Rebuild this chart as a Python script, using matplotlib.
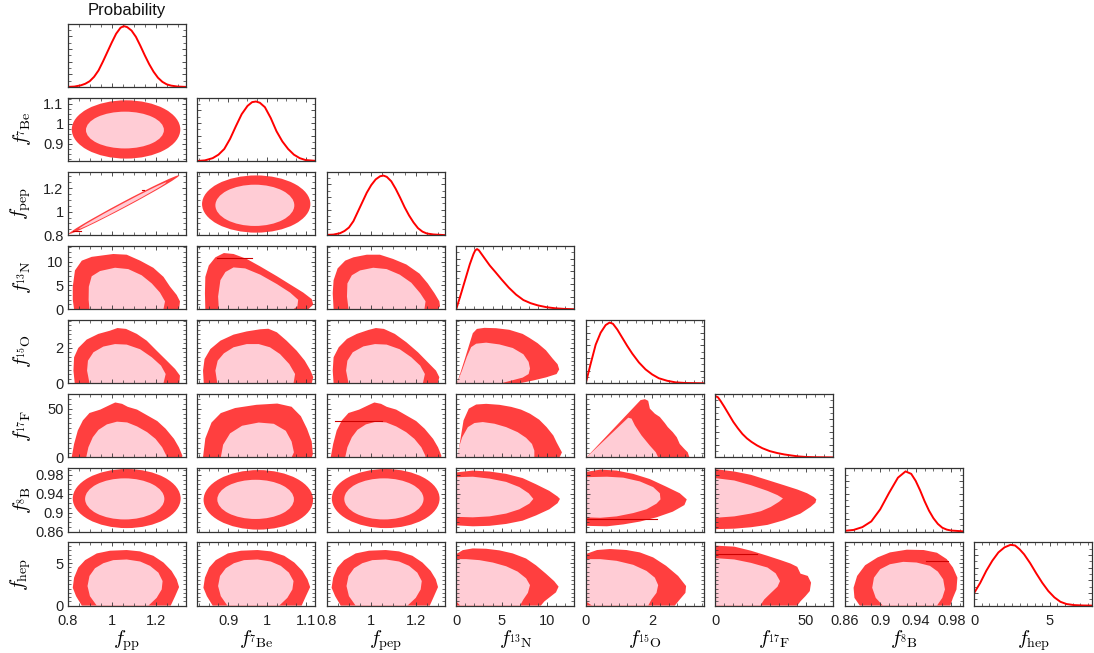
import matplotlib
matplotlib.use('Agg')
import matplotlib.pyplot as plt
from matplotlib.patches import Ellipse, Polygon
from matplotlib.ticker import FixedLocator, MultipleLocator, FuncFormatter

plt.rcParams['font.family'] = ['Liberation Sans', 'DejaVu Sans']
plt.rcParams['mathtext.fontset'] = 'cm'

# ---------------- parameters / axes ----------------
names = ['pp', 'Be', 'pep', 'N', 'O', 'F', 'B', 'hep']
axis_labels = [r'$f_{\rm pp}$', r'$f_{^{7}\rm Be}$', r'$f_{\rm pep}$', r'$f_{^{13}\rm N}$',
               r'$f_{^{15}\rm O}$', r'$f_{^{17}\rm F}$', r'$f_{^{8}\rm B}$', r'$f_{\rm hep}$']
xlims = [(0.8, 1.336), (0.82, 1.125), (0.8, 1.33), (0, 13), (0, 3.55), (0, 65), (0.86, 0.993), (0, 7.8)]
ylims = [(0.8, 1.336), (0.815, 1.13), (0.8, 1.34), (0, 13.3), (0, 3.55), (0, 65), (0.86, 0.994), (0, 7.45)]
major_ticks = [[0.8, 1.0, 1.2], [0.9, 1.0, 1.1], [0.8, 1.0, 1.2], [0, 5, 10], [0, 2], [0, 50],
               [0.86, 0.9, 0.94, 0.98], [0, 5]]
minor_steps = [0.05, 0.025, 0.05, 1, 0.25, 5, 0.01, 0.5]

# ---------------- 1D marginals ----------------
pp_x = [0.80, 0.83, 0.86, 0.88, 0.90, 0.92, 0.94, 0.96, 0.98, 1.00, 1.02, 1.04, 1.055, 1.07, 1.09, 1.11, 1.13,
        1.15, 1.17, 1.19, 1.21, 1.23, 1.25, 1.27, 1.30, 1.336]
pp_p = [0.0, 0.005, 0.025, 0.05, 0.09, 0.16, 0.26, 0.40, 0.55, 0.70, 0.84, 0.935, 0.96, 0.945, 0.89, 0.79, 0.65,
        0.50, 0.36, 0.24, 0.145, 0.08, 0.04, 0.02, 0.005, 0.0]
Be_x = [0.82, 0.84, 0.86, 0.875, 0.89, 0.905, 0.92, 0.935, 0.95, 0.962, 0.972, 0.982, 0.995, 1.01, 1.025, 1.04,
        1.055, 1.07, 1.085, 1.10, 1.125]
Be_p = [0.0, 0.01, 0.045, 0.10, 0.19, 0.35, 0.55, 0.74, 0.87, 0.93, 0.94, 0.92, 0.85, 0.68, 0.47, 0.31,
        0.19, 0.10, 0.045, 0.015, 0.003]
pep_x = [0.80, 0.83, 0.86, 0.88, 0.90, 0.92, 0.94, 0.96, 0.98, 1.00, 1.02, 1.04, 1.055, 1.07, 1.09, 1.11, 1.13,
         1.15, 1.17, 1.19, 1.21, 1.23, 1.25, 1.28, 1.33]
pep_p = [0.003, 0.008, 0.03, 0.065, 0.12, 0.22, 0.37, 0.52, 0.67, 0.79, 0.88, 0.93, 0.94, 0.92, 0.85, 0.73, 0.59,
         0.44, 0.31, 0.20, 0.11, 0.055, 0.025, 0.01, 0.0]
N_x = [0, 0.5, 1.0, 1.5, 1.9, 2.1, 2.3, 2.5, 2.8, 3.2, 3.7, 4.3, 5.0, 5.8, 6.6, 7.4, 8.2, 9.0, 10.0, 11.0, 12.0, 13]
N_p = [0, 0.23, 0.47, 0.71, 0.87, 0.93, 0.95, 0.93, 0.87, 0.79, 0.69, 0.59, 0.47, 0.34, 0.23, 0.145, 0.095, 0.06,
       0.03, 0.013, 0.004, 0]
O_x = [0, 0.15, 0.3, 0.45, 0.6, 0.72, 0.82, 0.95, 1.1, 1.25, 1.4, 1.6, 1.8, 2.0, 2.2, 2.45, 2.7, 3.0, 3.55]
O_p = [0, 0.31, 0.61, 0.80, 0.92, 0.96, 0.94, 0.85, 0.72, 0.59, 0.47, 0.33, 0.22, 0.14, 0.08, 0.04, 0.015, 0.005, 0]
F_x = [0, 1.5, 3, 5, 7.5, 10, 12.5, 15, 17.5, 20, 23, 26, 30, 34, 38, 42, 46, 50, 55, 65]
F_p = [0.97, 0.95, 0.89, 0.80, 0.68, 0.56, 0.46, 0.37, 0.30, 0.245, 0.19, 0.145, 0.10, 0.07, 0.047, 0.03, 0.015,
       0.007, 0.003, 0]
B_x = [0.86, 0.87, 0.88, 0.89, 0.90, 0.91, 0.92, 0.9286, 0.935, 0.94, 0.945, 0.95, 0.955, 0.96, 0.965, 0.97, 0.975,
       0.98, 0.993]
B_p = [0.01, 0.025, 0.07, 0.16, 0.35, 0.61, 0.85, 0.95, 0.91, 0.80, 0.65, 0.48, 0.33, 0.21, 0.12, 0.06, 0.03,
       0.015, 0.003]
hep_x = [0, 0.4, 0.8, 1.2, 1.6, 2.0, 2.4, 2.7, 3.0, 3.3, 3.7, 4.1, 4.5, 4.9, 5.3, 5.7, 6.1, 6.6, 7.2, 7.8]
hep_p = [0.20, 0.36, 0.55, 0.71, 0.84, 0.92, 0.96, 0.95, 0.89, 0.81, 0.67, 0.51, 0.36, 0.23, 0.13, 0.06, 0.025,
         0.008, 0.002, 0]

# ---------------- 2D regions: ellipses (cx, cy, width, height, angle) ----------------
Be_pp_out = (1.065, 0.972, 0.493, 0.29, 0)
Be_pp_in = (1.06, 0.969, 0.354, 0.183, 0)
pep_pp_out = (1.056, 1.06, 0.709, 0.040, 45)
pep_pp_in = (1.05, 1.052, 0.56, 0.024, 45)
pep_Be_out = (0.9725, 1.065, 0.28, 0.488, 0)
pep_Be_in = (0.969, 1.054, 0.204, 0.352, 0)
B_pp_out = (1.068, 0.9297, 0.49, 0.125, 0)
B_pp_in = (1.059, 0.929, 0.36, 0.087, 0)
B_Be_out = (0.978, 0.927, 0.283, 0.126, 0)
B_Be_in = (0.971, 0.928, 0.198, 0.083, 0)
B_pep_out = (1.065, 0.9297, 0.484, 0.125, 0)
B_pep_in = (1.057, 0.929, 0.356, 0.087, 0)

# ---------------- 2D regions: polygons [(x, y), ...] ----------------
N_pp_out = [(0.829, 0), (0.823, 2.0), (0.823, 4.73), (0.833, 8.15), (0.864, 10.2), (0.909, 11.0), (1.007, 11.6),
            (1.068, 11.45), (1.129, 10.2), (1.189, 8.7), (1.235, 6.8), (1.265, 4.73), (1.295, 3.0), (1.31, 1.65), (1.306, 0)]
N_pp_in = [(0.899, 0), (0.895, 2.0), (0.896, 4.73), (0.909, 6.92), (0.947, 8.02), (1.015, 8.71), (1.075, 8.43),
           (1.136, 7.13), (1.182, 5.41), (1.219, 3.5), (1.242, 1.65), (1.235, 0)]
N_Be_out = [(0.841, 0), (0.84, 3.36), (0.841, 6.78), (0.85, 9.18), (0.867, 10.9), (0.889, 11.8), (0.914, 11.6),
            (0.948, 10.56), (0.983, 8.98), (1.026, 6.93), (1.06, 5.21), (1.094, 3.5), (1.116, 2.13), (1.12, 0.96), (1.107, 0)]
N_Be_in = [(0.876, 0), (0.874, 2.67), (0.88, 6.1), (0.893, 7.82), (0.914, 8.78), (0.944, 8.57), (0.983, 7.26),
           (1.026, 5.28), (1.06, 3.5), (1.081, 1.98), (1.079, 0.61), (1.069, 0)]
N_pep_out = [(0.831, 0), (0.827, 3.36), (0.831, 6.1), (0.849, 8.57), (0.883, 10.2), (0.92, 10.9), (0.98, 11.45),
             (1.039, 11.45), (1.098, 10.56), (1.158, 9.39), (1.217, 7.47), (1.254, 5.41), (1.284, 3.36), (1.306, 1.65),
             (1.309, 0.61), (1.299, 0)]
N_pep_in = [(0.898, 0), (0.891, 2.66), (0.893, 5.41), (0.913, 7.13), (0.95, 8.15), (1.009, 8.71), (1.069, 8.43),
            (1.128, 7.26), (1.18, 5.56), (1.22, 3.36), (1.244, 1.65), (1.239, 0)]

O_pp_out = [(0.832, 0), (0.826, 0.71), (0.829, 1.46), (0.848, 1.98), (0.886, 2.45), (0.939, 2.77), (0.992, 2.95),
            (1.026, 3.1), (1.065, 3.05), (1.114, 2.77), (1.159, 2.39), (1.204, 1.83), (1.25, 1.27), (1.288, 0.8),
            (1.31, 0.43), (1.307, 0)]
O_pp_in = [(0.899, 0), (0.888, 0.71), (0.892, 1.27), (0.917, 1.74), (0.962, 2.06), (1.015, 2.2), (1.068, 2.17),
           (1.129, 1.91), (1.182, 1.46), (1.224, 0.99), (1.245, 0.52), (1.235, 0)]
O_Be_out = [(0.837, 0), (0.835, 0.71), (0.839, 1.36), (0.854, 1.92), (0.88, 2.39), (0.914, 2.73), (0.948, 2.91),
            (0.983, 3.03), (1.004, 3.06), (1.026, 2.86), (1.051, 2.39), (1.077, 1.83), (1.098, 1.27), (1.113, 0.71),
            (1.12, 0.34), (1.116, 0)]
O_Be_in = [(0.872, 0), (0.867, 0.71), (0.873, 1.27), (0.889, 1.68), (0.914, 2.02), (0.948, 2.2), (0.979, 2.2),
           (1.008, 2.02), (1.034, 1.64), (1.058, 1.08), (1.073, 0.52), (1.069, 0)]
O_pep_out = [(0.831, 0), (0.827, 0.71), (0.831, 1.46), (0.854, 2.02), (0.891, 2.49), (0.935, 2.77), (0.987, 2.99),
             (1.021, 3.1), (1.057, 3.05), (1.106, 2.77), (1.158, 2.3), (1.21, 1.74), (1.254, 1.18), (1.291, 0.71),
             (1.306, 0.34), (1.299, 0)]
O_pep_in = [(0.898, 0), (0.887, 0.71), (0.893, 1.27), (0.917, 1.74), (0.965, 2.07), (1.017, 2.2), (1.069, 2.17),
            (1.128, 1.91), (1.18, 1.46), (1.22, 0.99), (1.241, 0.52), (1.232, 0)]
O_N_out = [(0.08, 0), (0.44, 0.55), (0.91, 1.3), (1.47, 2.22), (1.83, 2.81), (2.28, 3.05), (3.11, 3.11), (4.39, 3.09),
           (5.86, 3.0), (7.32, 2.77), (8.06, 2.55), (8.97, 2.25), (9.89, 1.85), (10.62, 1.39), (11.17, 1.07),
           (11.35, 0.78), (11.06, 0.52), (9.89, 0.33), (8.42, 0.15), (6.96, 0)]
O_N_in = [(0.08, 0), (0.66, 0.74), (1.17, 1.48), (1.65, 2.03), (2.2, 2.22), (3.3, 2.28), (4.76, 2.18), (6.23, 1.98),
          (7.4, 1.63), (7.98, 1.2), (8.13, 0.83), (7.98, 0.52), (7.32, 0.32), (6.05, 0.15), (4.94, 0)]

F_pp_out = [(0.818, 0), (0.829, 13.8), (0.846, 27.7), (0.869, 38.0), (0.899, 45.6), (0.948, 49.1), (0.993, 54.0),
            (1.016, 56.4), (1.047, 55.0), (1.073, 51.9), (1.115, 49.1), (1.161, 43.2), (1.207, 37.3), (1.245, 29.4),
            (1.283, 19.0), (1.305, 10.4), (1.321, 1.8), (1.319, 0)]
F_pp_in = [(0.884, 0), (0.894, 10.4), (0.914, 20.7), (0.94, 28.3), (0.978, 33.9), (1.024, 36.7), (1.07, 35.9),
           (1.115, 31.8), (1.161, 25.9), (1.199, 19.0), (1.229, 10.4), (1.248, 1.8), (1.249, 0)]
F_Be_out = [(0.835, 0), (0.841, 19.5), (0.857, 35.8), (0.881, 45.5), (0.918, 50.7), (0.973, 54), (1.027, 55.3),
            (1.064, 52), (1.088, 42.3), (1.104, 29.3), (1.116, 16.3), (1.119, 3.3), (1.116, 0)]
F_Be_in = [(0.881, 0), (0.887, 13), (0.905, 24.7), (0.936, 32.5), (0.979, 35.8), (1.018, 34.5), (1.049, 27.3),
           (1.064, 16.3), (1.07, 5.2), (1.064, 0)]
F_pep_out = [(0.818, 0), (0.829, 13.8), (0.845, 27.7), (0.868, 38.0), (0.898, 45.6), (0.946, 49.1), (0.991, 54.0),
             (1.014, 56.4), (1.044, 55.0), (1.07, 51.9), (1.112, 49.1), (1.157, 43.2), (1.202, 37.3), (1.24, 29.4),
             (1.278, 19.0), (1.3, 10.4), (1.315, 1.8), (1.314, 0)]
F_pep_in = [(0.883, 0), (0.893, 10.4), (0.913, 20.7), (0.938, 28.3), (0.976, 33.9), (1.022, 36.7), (1.067, 35.9),
            (1.112, 31.8), (1.157, 25.9), (1.194, 19.0), (1.225, 10.4), (1.243, 1.8), (1.244, 0)]
F_N_out = [(0.18, 0), (0.44, 17.3), (0.81, 38.0), (1.39, 50.1), (2.2, 54.3), (3.3, 55.0), (4.76, 54.0), (6.05, 51.9),
           (7.14, 49.1), (8.13, 44.9), (9.15, 38.7), (9.96, 31.1), (10.7, 22.5), (11.06, 15.5), (11.35, 10.4),
           (11.65, 5.2), (11.43, 0.7), (11.17, 0)]
F_N_in = [(0.08, 0), (0.3, 10.4), (0.66, 20.7), (1.29, 31.1), (2.01, 35.3), (2.93, 36.3), (4.21, 34.6), (5.5, 31.1),
          (6.77, 25.9), (7.7, 20.1), (8.35, 13.8), (8.61, 6.9), (8.61, 0)]
F_O_out = [(0.02, 0), (1.65, 58.8), (1.78, 59.8), (1.88, 58.1), (1.93, 50.1), (2.08, 44.9), (2.23, 41.5), (2.38, 35.3),
           (2.47, 31.1), (2.62, 25.9), (2.74, 20.7), (2.83, 13.8), (2.97, 8.6), (3.07, 5.2), (3.12, 0)]
F_O_in = [(0.02, 0), (1.28, 40.8), (1.38, 39.8), (1.48, 32.8), (1.68, 22.5), (1.93, 12.1), (2.11, 5.2), (2.18, 0)]

B_N_out = [(0, 0.985), (1.83, 0.989), (3.67, 0.987), (5.5, 0.982), (7.32, 0.973), (8.79, 0.96), (10.26, 0.946),
           (11.17, 0.934), (11.43, 0.929), (11.17, 0.92), (10.26, 0.907), (8.79, 0.894), (7.32, 0.883), (5.5, 0.876),
           (3.67, 0.872), (1.83, 0.871), (0, 0.873)]
B_N_in = [(0, 0.975), (1.83, 0.976), (3.67, 0.972), (5.5, 0.965), (6.96, 0.954), (7.98, 0.941), (8.5, 0.929),
          (8.06, 0.919), (6.96, 0.907), (5.5, 0.898), (3.67, 0.892), (1.83, 0.89), (0, 0.891)]
B_O_out = [(0, 0.986), (0.44, 0.991), (0.93, 0.989), (1.43, 0.982), (1.93, 0.971), (2.42, 0.955), (2.83, 0.941),
           (3.04, 0.928), (2.97, 0.916), (2.62, 0.902), (2.13, 0.89), (1.63, 0.881), (1.13, 0.875), (0.64, 0.871),
           (0, 0.872)]
B_O_in = [(0, 0.975), (0.64, 0.976), (1.13, 0.974), (1.63, 0.966), (2.03, 0.954), (2.23, 0.941), (2.25, 0.928),
          (2.13, 0.919), (1.83, 0.907), (1.43, 0.899), (0.93, 0.892), (0.44, 0.889), (0, 0.89)]
B_F_out = [(0, 0.992), (10.5, 0.987), (19.7, 0.98), (28.8, 0.969), (37.9, 0.958), (45.2, 0.949), (50.6, 0.941),
           (54.3, 0.933), (55.7, 0.928), (55.2, 0.921), (52.5, 0.912), (47.0, 0.898), (37.9, 0.884), (28.8, 0.874),
           (19.7, 0.869), (10.5, 0.866), (0, 0.865)]
B_F_in = [(0, 0.973), (10.5, 0.968), (19.7, 0.958), (28.8, 0.946), (34.3, 0.937), (37.3, 0.93), (35.2, 0.923),
          (30.6, 0.912), (25.2, 0.903), (19.7, 0.898), (10.5, 0.892), (0, 0.889)]

hep_pp_out = [(0.864, 0), (0.838, 1.11), (0.823, 2.1), (0.829, 3.29), (0.848, 4.48), (0.879, 5.35), (0.932, 6.14),
              (0.992, 6.46), (1.068, 6.54), (1.129, 6.38), (1.189, 5.86), (1.235, 5.07), (1.272, 4.08), (1.295, 3.09),
              (1.306, 2.18), (1.288, 1.11), (1.268, 0)]
hep_pp_in = [(0.932, 0), (0.901, 1.11), (0.89, 2.3), (0.899, 3.49), (0.924, 4.4), (0.962, 4.99), (1.007, 5.35),
             (1.068, 5.43), (1.129, 5.19), (1.174, 4.68), (1.212, 3.88), (1.231, 2.89), (1.227, 1.9), (1.204, 0.91),
             (1.167, 0)]
hep_Be_out = [(0.86, 0), (0.845, 1.11), (0.836, 2.1), (0.84, 3.29), (0.851, 4.48), (0.868, 5.35), (0.899, 6.14),
              (0.933, 6.46), (0.976, 6.54), (1.011, 6.38), (1.045, 5.86), (1.071, 5.07), (1.092, 4.08), (1.105, 3.09),
              (1.112, 2.18), (1.101, 1.11), (1.09, 0)]
hep_Be_in = [(0.898, 0), (0.881, 1.11), (0.874, 2.3), (0.879, 3.49), (0.894, 4.4), (0.915, 4.99), (0.941, 5.35),
             (0.976, 5.43), (1.01, 5.19), (1.036, 4.68), (1.057, 3.88), (1.069, 2.89), (1.066, 1.9), (1.053, 0.91),
             (1.032, 0)]
hep_pep_out = [(0.863, 0), (0.838, 1.11), (0.822, 2.1), (0.829, 3.29), (0.848, 4.48), (0.878, 5.35), (0.93, 6.14),
               (0.99, 6.46), (1.065, 6.54), (1.125, 6.38), (1.185, 5.86), (1.23, 5.07), (1.267, 4.08), (1.29, 3.09),
               (1.3, 2.18), (1.282, 1.11), (1.263, 0)]
hep_pep_in = [(0.93, 0), (0.9, 1.11), (0.889, 2.3), (0.898, 3.49), (0.923, 4.4), (0.96, 4.99), (1.005, 5.35),
              (1.065, 5.43), (1.125, 5.19), (1.17, 4.68), (1.207, 3.88), (1.227, 2.89), (1.222, 1.9), (1.2, 0.91),
              (1.163, 0)]
hep_N_out = [(0, 6.06), (0.73, 6.53), (1.83, 6.73), (3.3, 6.69), (4.76, 6.5), (6.23, 6.14), (7.7, 5.54), (8.79, 4.74),
             (9.89, 3.75), (10.8, 2.87), (11.28, 2.23), (10.99, 1.56), (10.26, 0.95), (9.7, 0.48), (9.33, 0), (0, 0)]
hep_N_in = [(0, 5.47), (1.1, 5.47), (2.56, 5.35), (4.03, 5.07), (5.5, 4.63), (6.77, 4.0), (7.7, 3.21), (8.13, 2.41),
            (7.9, 1.5), (7.4, 0.72), (7.03, 0), (0.44, 0), (0, 0.51)]
hep_O_out = [(0, 6.06), (0.34, 6.54), (0.73, 6.66), (1.23, 6.54), (1.63, 6.26), (2.03, 5.67), (2.42, 4.68),
             (2.78, 3.49), (3.02, 2.3), (3.0, 1.5), (2.83, 0.72), (2.68, 0), (0, 0)]
hep_O_in = [(0, 5.47), (0.44, 5.47), (0.93, 5.27), (1.43, 4.8), (1.83, 4.08), (2.08, 3.29), (2.18, 2.41), (2.13, 1.5),
            (1.98, 0.72), (1.88, 0), (0.19, 0), (0, 0.51)]
hep_F_out = [(0, 7.06), (10.5, 6.94), (19.7, 6.46), (28.8, 5.86), (36.1, 5.35), (41.5, 4.95), (45.2, 4.56), (47.0, 3.76),
             (51.0, 3.49), (52.8, 2.7), (52.1, 1.71), (49.7, 1.11), (47.0, 0.51), (45.2, 0), (0, 0)]
hep_F_in = [(0, 5.59), (10.5, 5.43), (19.7, 5.03), (28.8, 4.48), (33.3, 3.8), (35.7, 2.89), (34.3, 2.22), (30.6, 1.47),
            (27.0, 0.72), (24.8, 0), (0, 0)]
hep_B_out = [(0.877, 0), (0.871, 0.91), (0.87, 2.1), (0.874, 3.49), (0.883, 4.75), (0.897, 5.67), (0.911, 6.26),
             (0.93, 6.58), (0.949, 6.54), (0.964, 6.22), (0.975, 5.47), (0.982, 4.48), (0.987, 3.29), (0.986, 1.9),
             (0.982, 0.91), (0.979, 0)]
hep_B_in = [(0.903, 0), (0.895, 0.91), (0.891, 2.1), (0.893, 3.29), (0.9, 4.28), (0.911, 4.87), (0.926, 5.15),
            (0.941, 5.07), (0.956, 4.68), (0.965, 4.0), (0.971, 3.09), (0.973, 1.9), (0.97, 0.91), (0.964, 0)]

# thin dark-red artefact segments [(x0, x1, y)]
pep_pp_marks = [(0.823, 0.861, 0.832), (1.136, 1.148, 1.182)]
N_Be_marks = [(0.872, 0.961, 10.8)]
F_pep_marks = [(0.838, 1.05, 37.5)]
B_O_marks = [(0.0, 2.13, 0.886)]
hep_F_marks = [(0.0, 23.3, 6.06)]
hep_B_marks = [(0.952, 0.976, 5.27)]

# ---------------- style ----------------
OUT_C = '#ff3f3f'
IN_C = '#ffccd5'
LINE_C = '#ff0000'
MARK_C = '#cc0000'

marginals = [(pp_x, pp_p), (Be_x, Be_p), (pep_x, pep_p), (N_x, N_p), (O_x, O_p), (F_x, F_p), (B_x, B_p),
             (hep_x, hep_p)]
ellipse_panels = {(1, 0): (Be_pp_out, Be_pp_in), (2, 0): (pep_pp_out, pep_pp_in), (2, 1): (pep_Be_out, pep_Be_in),
                  (6, 0): (B_pp_out, B_pp_in), (6, 1): (B_Be_out, B_Be_in), (6, 2): (B_pep_out, B_pep_in)}
poly_panels = {(3, 0): (N_pp_out, N_pp_in), (3, 1): (N_Be_out, N_Be_in), (3, 2): (N_pep_out, N_pep_in),
               (4, 0): (O_pp_out, O_pp_in), (4, 1): (O_Be_out, O_Be_in), (4, 2): (O_pep_out, O_pep_in),
               (4, 3): (O_N_out, O_N_in),
               (5, 0): (F_pp_out, F_pp_in), (5, 1): (F_Be_out, F_Be_in), (5, 2): (F_pep_out, F_pep_in),
               (5, 3): (F_N_out, F_N_in), (5, 4): (F_O_out, F_O_in),
               (6, 3): (B_N_out, B_N_in), (6, 4): (B_O_out, B_O_in), (6, 5): (B_F_out, B_F_in),
               (7, 0): (hep_pp_out, hep_pp_in), (7, 1): (hep_Be_out, hep_Be_in), (7, 2): (hep_pep_out, hep_pep_in),
               (7, 3): (hep_N_out, hep_N_in), (7, 4): (hep_O_out, hep_O_in), (7, 5): (hep_F_out, hep_F_in),
               (7, 6): (hep_B_out, hep_B_in)}
mark_panels = {(2, 0): pep_pp_marks, (3, 1): N_Be_marks, (5, 2): F_pep_marks, (6, 4): B_O_marks,
               (7, 5): hep_F_marks, (7, 6): hep_B_marks}

FW, FH = 1094, 653
fig = plt.figure(figsize=(FW / 100, FH / 100), dpi=100)
L0, DX, W = 67.7, 129.5, 118.0
T0, DY, H = 23.6, 74.1, 63.3

fmt = FuncFormatter(lambda v, p: '%g' % round(v, 4))

for i in range(8):
    for j in range(i + 1):
        ax = fig.add_axes([(L0 + DX * j) / FW, 1 - (T0 + DY * i + H) / FH, W / FW, H / FH])
        ax.set_xlim(*xlims[j])
        ax.xaxis.set_major_locator(FixedLocator(major_ticks[j]))
        ax.xaxis.set_minor_locator(MultipleLocator(minor_steps[j]))
        ax.xaxis.set_major_formatter(fmt)
        if i == j:
            xs, ps = marginals[i]
            ax.plot(xs, ps, color=LINE_C, lw=1.4, solid_joinstyle='round')
            ax.set_ylim(0, 1.0)
            ax.yaxis.set_major_locator(MultipleLocator(0.2))
            ax.yaxis.set_minor_locator(MultipleLocator(0.1))
        else:
            ax.set_ylim(*ylims[i])
            ax.yaxis.set_major_locator(FixedLocator(major_ticks[i]))
            ax.yaxis.set_minor_locator(MultipleLocator(minor_steps[i]))
            ax.yaxis.set_major_formatter(fmt)
            if (i, j) in ellipse_panels:
                for e, c in zip(ellipse_panels[(i, j)], (OUT_C, IN_C)):
                    ax.add_patch(Ellipse((e[0], e[1]), e[2], e[3], angle=e[4], facecolor=c, edgecolor='none'))
            if (i, j) in poly_panels:
                for pts, c in zip(poly_panels[(i, j)], (OUT_C, IN_C)):
                    ax.add_patch(Polygon(pts, closed=True, facecolor=c, edgecolor='none'))
            for (x0, x1, yv) in mark_panels.get((i, j), []):
                ax.plot([x0, x1], [yv, yv], color=MARK_C, lw=0.8)
        ax.tick_params(which='both', direction='in', top=True, right=True, colors='#333333',
                       labelcolor='#222222', labelsize=10.5)
        ax.tick_params(axis='x', which='both', pad=6)
        ax.tick_params(axis='y', which='both', pad=3)
        ax.tick_params(which='major', length=3, width=0.6)
        ax.tick_params(which='minor', length=2, width=0.5)
        for s in ax.spines.values():
            s.set_color('#333333')
            s.set_linewidth(0.9)
        show_y = (j == 0 and i > 0)
        ax.tick_params(labelleft=show_y, labelbottom=(i == 7))
        if show_y:
            ax.set_ylabel(axis_labels[i], fontsize=14.5)
            ax.yaxis.set_label_coords(-0.295, 0.5)
        if i == 7:
            ax.set_xlabel(axis_labels[j], fontsize=14.5)
            ax.xaxis.set_label_coords(0.5, -0.36)

fig.text((L0 + W / 2) / FW, 1 - 11 / FH, 'Probability', ha='center', va='center', fontsize=12, color='#111111')

fig.savefig('out.png', dpi=100)
